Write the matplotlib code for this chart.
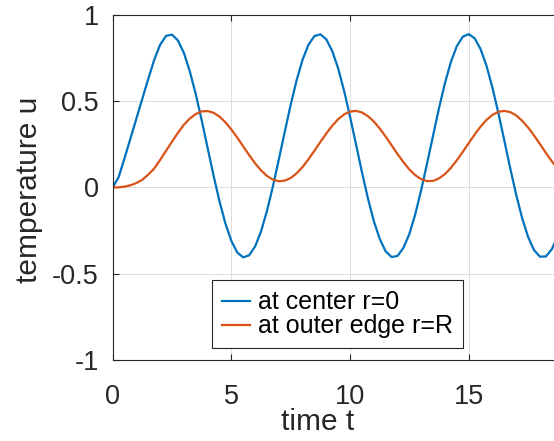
import numpy as np
import matplotlib
matplotlib.use("Agg")
import matplotlib.pyplot as plt

plt.rcParams['font.family'] = ['Liberation Sans', 'DejaVu Sans']

# time samples (step 0.25)
t = [i * 0.25 for i in range(77)]

# temperature at center r=0
u_center = [
    0.000, 0.060, 0.170, 0.285, 0.400, 0.515, 0.630, 0.740, 0.828, 0.879,
    0.886, 0.852, 0.780, 0.673, 0.541, 0.390, 0.229, 0.069, -0.080, -0.209,
    -0.310, -0.377, -0.405, -0.393, -0.342, -0.255, -0.136, 0.006, 0.163, 0.323,
    0.480, 0.622, 0.741, 0.828, 0.878, 0.888, 0.859, 0.791, 0.690, 0.560,
    0.411, 0.251, 0.090, -0.061, -0.194, -0.298, -0.370, -0.403, -0.397, -0.350,
    -0.269, -0.154, -0.013, 0.142, 0.302, 0.461, 0.606, 0.728, 0.820, 0.874,
    0.889, 0.865, 0.802, 0.705, 0.578, 0.431, 0.272, 0.111, -0.042, -0.177,
    -0.286, -0.363, -0.401, -0.400, -0.358, -0.282, -0.170,
]

# temperature at outer edge r=R
u_edge = [
    0.000, 0.001, 0.005, 0.013, 0.026, 0.045, 0.075, 0.110, 0.160, 0.213,
    0.266, 0.317, 0.364, 0.400, 0.426, 0.441, 0.443, 0.433, 0.411, 0.378,
    0.336, 0.289, 0.238, 0.188, 0.140, 0.099, 0.067, 0.046, 0.036, 0.040,
    0.055, 0.082, 0.119, 0.164, 0.213, 0.264, 0.313, 0.358, 0.396, 0.424,
    0.440, 0.444, 0.435, 0.414, 0.383, 0.342, 0.295, 0.245, 0.194, 0.147,
    0.104, 0.071, 0.048, 0.037, 0.038, 0.053, 0.078, 0.114, 0.158, 0.207,
    0.257, 0.307, 0.353, 0.392, 0.421, 0.439, 0.444, 0.437, 0.418, 0.387,
    0.348, 0.302, 0.252, 0.201, 0.152, 0.109, 0.075,
]

labels = ['at center r=0', 'at outer edge r=R']

fig = plt.figure(figsize=(5.54, 4.41), dpi=100)
ax = fig.add_axes([0.2034, 0.1837, 1.011 - 0.2034, 0.7823])

ax.plot(t, u_center, color='#0072BD', lw=1.6, label=labels[0])
ax.plot(t, u_edge, color='#D95319', lw=1.6, label=labels[1])

ax.set_xlim(0, 6 * np.pi)
ax.set_ylim(-1, 1)
ax.set_xticks([0, 5, 10, 15])
ax.set_yticks([-1, -0.5, 0, 0.5, 1])
ax.set_yticklabels(['-1', '-0.5', '0', '0.5', '1'])

ax.grid(True, color='#dcdcdc', lw=0.7)
ax.set_axisbelow(True)
for s in ax.spines.values():
    s.set_color('#262626')
    s.set_linewidth(0.8)
ax.tick_params(direction='in', length=4, width=0.8, colors='#262626',
               labelsize=19.5, top=True, right=True)
ax.tick_params(axis='x', pad=17)
ax.tick_params(axis='y', pad=10)

ax.set_xlabel('time t', fontsize=21.5, color='#262626')
ax.set_ylabel('temperature u', fontsize=21.5, color='#262626')
ax.xaxis.set_label_coords(0.458, -0.14)
ax.yaxis.set_label_coords(-0.156, 0.493)

leg = ax.legend(loc='lower left', bbox_to_anchor=(0.221, 0.034),
                borderaxespad=0, fontsize=18, fancybox=False,
                edgecolor='#262626', framealpha=1, handlelength=1.15,
                handletextpad=0.3, labelspacing=0, borderpad=0.4)
leg.get_frame().set_linewidth(0.8)

fig.savefig('out.png', dpi=100)
